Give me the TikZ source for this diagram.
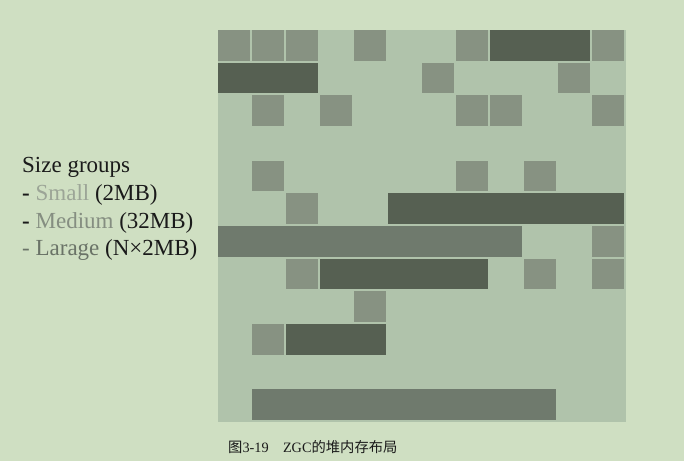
\documentclass[tikz,border=0pt]{standalone}
\usepackage{fontspec}
\setmainfont{Liberation Serif}
\newfontfamily\cjk{Noto Sans CJK SC}
\definecolor{pagebg}{HTML}{CFDFC2}
\definecolor{gridbg}{HTML}{B0C3AB}
\definecolor{smallc}{HTML}{879282}
\definecolor{mediumc}{HTML}{566052}
\definecolor{largec}{HTML}{6F7A6D}
\definecolor{smalltxt}{HTML}{9CA597}
\definecolor{mediumtxt}{HTML}{858E81}
\definecolor{largetxt}{HTML}{6A7367}
\definecolor{inktxt}{HTML}{1A1A1A}
\begin{document}
\begin{tikzpicture}[x=1pt,y=-1pt,
  legend/.style={anchor=base west,inner sep=0pt,font=\fontsize{23}{27}\selectfont,text=inktxt},
  caption/.style={anchor=base west,inner sep=0pt,font=\fontsize{14.3}{17}\selectfont,text=inktxt}]
\useasboundingbox (0,0) rectangle (684,461);
\fill[pagebg] (0,0) rectangle (684,461);
\fill[gridbg] (218,30) rectangle (626,422);
% small cells
\foreach \c/\r in {0/0,1/0,2/0,4/0,7/0,11/0,6/1,10/1,1/2,3/2,7/2,8/2,11/2,1/4,7/4,9/4,2/5,11/6,2/7,9/7,11/7,4/8,1/9}
  \fill[smallc] ({218+34*\c},{30+32.667*\r}) rectangle ++(31.5,30.8);
% medium cells
\foreach \c/\r/\n in {8/0/3,0/1/3,5/5/7,3/7/5,2/9/3}
  \fill[mediumc] ({218+34*\c},{30+32.667*\r}) rectangle ++({34*\n-2.5},30.8);
% large cells
\foreach \c/\r/\n in {0/6/9,1/11/9}
  \fill[largec] ({218+34*\c},{30+32.667*\r}) rectangle ++({34*\n-2.5},30.8);
% legend
\node[legend] (title) at (22,172.7) {Size groups};
\node[legend] (small) at (22,200.5) {\textbf{-} \textcolor{smalltxt}{Small} (2MB)};
\node[legend] (medium) at (22,228) {\textbf{-} \textcolor{mediumtxt}{Medium} (32MB)};
\node[legend] (large) at (22,255.5) {\textcolor{largetxt}{- Larage} (N×2MB)};
% caption
\node[caption] (cap) at (228,452) {{\cjk 图}3-19\hspace{1em}ZGC{\cjk 的堆内存布局}};
\end{tikzpicture}
\end{document}
